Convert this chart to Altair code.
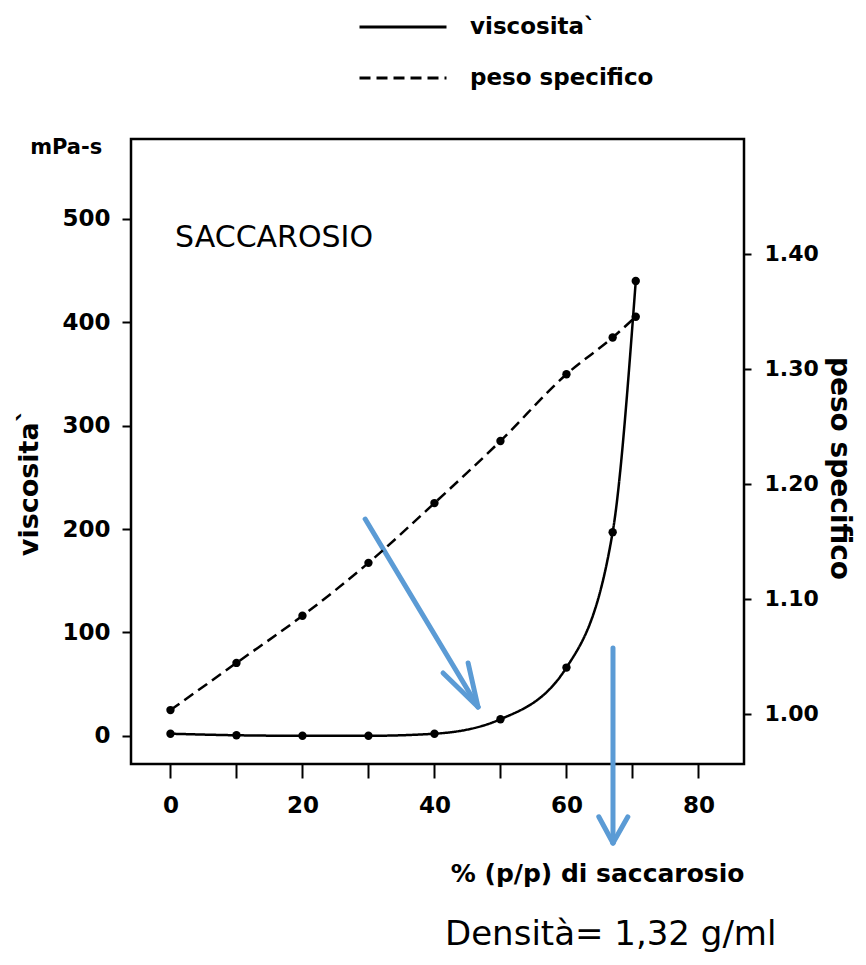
import altair as alt
import pandas as pd

# ---- data ----
conc = [0, 10, 20, 30, 40, 50, 60, 67, 70.5]          # % (p/p) di saccarosio
viscosity = [2, 0.5, 0, 0, 2, 16, 66, 197, 440]      # mPa-s
density = [1.003, 1.044, 1.085, 1.131, 1.183, 1.237, 1.295, 1.327, 1.345]  # peso specifico
series_names = ["viscosita`", "peso specifico"]

x_ticks = [0, 10, 20, 30, 40, 50, 60, 70, 80]
visc_ticks = [0, 100, 200, 300, 400, 500]
dens_ticks = [1.0, 1.1, 1.2, 1.3, 1.4]

# blue annotation arrows (data units: x = %, v = viscosity scale)
arrow_seg = ["a1", "a1", "a1l", "a1l", "a1r", "a1r", "a2", "a2", "a2l", "a2l", "a2r", "a2r"]
arrow_ord = [0, 1, 0, 1, 0, 1, 0, 1, 0, 1, 0, 1]
arrow_x = [29.5, 46.6, 46.6, 41.3, 46.6, 45.1, 67.05, 67.05, 67.05, 64.9, 67.05, 69.3]
arrow_v = [209.7, 27.9, 27.9, 60.8, 27.9, 70.4, 84.9, -103.7, -103.7, -78.4, -103.7, -78.4]

# text annotations (data units)
ann_text = ["SACCAROSIO", "mPa-s", "Densità= 1,32 g/ml"]
ann_x = [0.7, -15.8, 41.6]
ann_v = [482, 569, -193]

FONT = "DejaVu Sans"
X_DOMAIN = [-5.98, 86.9]
V_DOMAIN = [-27.3, 577.4]
D_DOMAIN = [0.9561, 1.4996]

visc_df = pd.DataFrame({"x": conc, "v": viscosity, "series": series_names[0]})
dens_df = pd.DataFrame({"x": conc, "d": density, "series": series_names[1]})
arrow_df = pd.DataFrame({"x": arrow_x, "v": arrow_v, "seg": arrow_seg, "ord": arrow_ord})
ann_df = pd.DataFrame({"x": ann_x, "v": ann_v, "label": ann_text})

x_axis = alt.Axis(values=x_ticks, labelExpr="datum.value % 20 == 0 ? datum.label : ''",
                  tickSize=14, tickWidth=2, tickColor="black", labelPadding=16,
                  labelFont=FONT, labelFontSize=23, labelFontWeight="bold", labelColor="black",
                  title="% (p/p) di saccarosio", titleAnchor="end", titleFont=FONT,
                  titleFontSize=25, titleFontWeight="bold", titleColor="black", titlePadding=44,
                  domain=False, grid=False)
left_axis = alt.Axis(values=visc_ticks, tickSize=9, tickWidth=2, tickColor="black", labelPadding=12,
                     labelFont=FONT, labelFontSize=23, labelFontWeight="bold", labelColor="black",
                     title="viscosita`", titleFont=FONT, titleFontSize=27, titleFontWeight="bold",
                     titleColor="black", titleAngle=-90, titleX=-102, titleY=343,
                     titleAlign="center", titleBaseline="middle", domain=False, grid=False)
right_axis = alt.Axis(orient="right", values=dens_ticks, format=".2f", tickSize=7, tickWidth=2,
                      tickColor="black", labelPadding=13, labelFont=FONT, labelFontSize=22,
                      labelFontWeight="bold", labelColor="black",
                      title="peso specifico", titleFont=FONT, titleFontSize=28, titleFontWeight="bold",
                      titleColor="black", titleAngle=90, titleX=94, titleY=329,
                      titleAlign="center", titleBaseline="middle", domain=False, grid=False)

xenc = alt.X("x:Q", scale=alt.Scale(domain=X_DOMAIN, nice=False, zero=False), axis=x_axis)
yL = alt.Y("v:Q", scale=alt.Scale(domain=V_DOMAIN, nice=False, zero=False), axis=left_axis)
yR = alt.Y("d:Q", scale=alt.Scale(domain=D_DOMAIN, nice=False, zero=False), axis=right_axis)

legend = alt.Legend(title=None, orient="none", legendX=227, legendY=-123, symbolType="stroke",
                    symbolSize=7569, symbolStrokeWidth=3, symbolStrokeColor="black",
                    clipHeight=22, rowPadding=28, labelOffset=22, labelFont=FONT,
                    labelFontSize=23, labelFontWeight="bold", labelColor="black",
                    padding=0, labelLimit=400)
dash = alt.StrokeDash("series:N", scale=alt.Scale(domain=series_names, range=[[1, 0], [11, 6]]),
                      legend=legend)

visc_line = alt.Chart(visc_df).mark_line(color="black", strokeWidth=2.5, interpolate="monotone").encode(
    x=xenc, y=yL, strokeDash=dash)
visc_pts = alt.Chart(visc_df).mark_circle(color="black", size=70, opacity=1).encode(x=xenc, y=yL)
arrows = alt.Chart(arrow_df).mark_line(color="#5b9bd5", strokeWidth=5, strokeCap="round",
                                       clip=False).encode(x=xenc, y=yL, detail="seg:N", order="ord:Q")
txt_sacc = alt.Chart(ann_df).transform_filter(alt.datum.label == ann_text[0]).mark_text(
    align="left", baseline="middle", font=FONT, fontSize=30, color="black").encode(x=xenc, y=yL, text="label:N")
txt_mpa = alt.Chart(ann_df).transform_filter(alt.datum.label == ann_text[1]).mark_text(
    align="center", baseline="middle", font=FONT, fontSize=21, fontWeight="bold", color="black",
    clip=False).encode(x=xenc, y=yL, text="label:N")
txt_dens = alt.Chart(ann_df).transform_filter(alt.datum.label == ann_text[2]).mark_text(
    align="left", baseline="middle", font=FONT, fontSize=34, color="black",
    clip=False).encode(x=xenc, y=yL, text="label:N")

dens_line = alt.Chart(dens_df).mark_line(color="black", strokeWidth=2.5, interpolate="monotone").encode(
    x=xenc, y=yR, strokeDash=dash)
dens_pts = alt.Chart(dens_df).mark_circle(color="black", size=70, opacity=1).encode(x=xenc, y=yR)

left = alt.layer(visc_line, visc_pts, arrows, txt_sacc, txt_mpa, txt_dens)
right = alt.layer(dens_line, dens_pts)

chart = alt.layer(left, right).resolve_scale(y="independent").properties(
    width=613, height=625,
    autosize=alt.AutoSizeParams(type="none"),
    padding={"left": 123, "top": 131, "right": 114, "bottom": 193},
    background="white",
).configure_view(stroke="black", strokeWidth=2.5)

chart.save("out.html", embed_options={"renderer": "svg", "actions": False})
